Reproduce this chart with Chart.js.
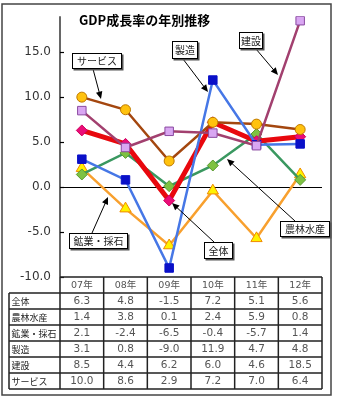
<!DOCTYPE html>
<html>
<head>
<meta charset="utf-8">
<script src="https://cdn.jsdelivr.net/npm/chart.js@4"></script>
<style>
  html, body { margin: 0; padding: 0; background: #fff; }
  #wrap { width: 337px; height: 400px; position: relative; }
</style>
</head>
<body>
<div id="wrap"><canvas id="gdpChart" width="337" height="400"></canvas></div>
<script>
// 年別GDP成長率（%）
const years = ['07年', '08年', '09年', '10年', '11年', '12年'];
const zentai = [6.3, 4.8, -1.5, 7.2, 5.1, 5.6];
const nourin = [1.4, 3.8, 0.1, 2.4, 5.9, 0.8];
const kougyou = [2.1, -2.4, -6.5, -0.4, -5.7, 1.4];
const seizou = [3.1, 0.8, -9.0, 11.9, 4.7, 4.8];
const kensetsu = [8.5, 4.4, 6.2, 6.0, 4.6, 18.5];
const service = [10.0, 8.6, 2.9, 7.2, 7.0, 6.4];
const yTicks = [-10, -5, 0, 5, 10, 15];

const FONT_NUM = '"DejaVu Sans", "Noto Sans CJK JP", sans-serif';
const FONT_JP = '"Noto Sans CJK JP", "DejaVu Sans", sans-serif';

// 表の行（ラベルとデータ）
const rows = [
    ['全体', zentai],
    ['農林水産', nourin],
    ['鉱業・採石', kougyou],
    ['製造', seizou],
    ['建設', kensetsu],
    ['サービス', service]
];

// 吹き出しラベル: 箱の位置と矢印
const callouts = [
    { text: 'サービス', x: 72, y: 53, w: 50, h: 16, from: [93, 69], to: [101, 99] },
    { text: '製造', x: 172, y: 41, w: 26, h: 18, from: [183, 59], to: [208, 92] },
    { text: '建設', x: 239, y: 32, w: 24, h: 17, from: [256, 49], to: [278, 75] },
    { text: '鉱業・採石', x: 69, y: 233, w: 59, h: 16, from: [92, 233], to: [108, 197] },
    { text: '全体', x: 204, y: 242, w: 29, h: 17, from: [214, 242], to: [172, 203] },
    { text: '農林水産', x: 280, y: 221, w: 50, h: 16, from: [295, 221], to: [227, 159] }
];

function arrow(ctx, x1, y1, x2, y2) {
    const ang = Math.atan2(y2 - y1, x2 - x1);
    const len = 8, spread = 0.42;
    ctx.beginPath();
    ctx.moveTo(x1, y1);
    ctx.lineTo(x2 - Math.cos(ang) * len * 0.8, y2 - Math.sin(ang) * len * 0.8);
    ctx.stroke();
    ctx.beginPath();
    ctx.moveTo(x2, y2);
    ctx.lineTo(x2 - len * Math.cos(ang - spread), y2 - len * Math.sin(ang - spread));
    ctx.lineTo(x2 - len * Math.cos(ang + spread), y2 - len * Math.sin(ang + spread));
    ctx.closePath();
    ctx.fill();
}

const decorPlugin = {
    id: 'decor',
    beforeDraw(chart) {
        const ctx = chart.ctx;
        ctx.save();
        ctx.fillStyle = '#fff';
        ctx.fillRect(0, 0, chart.width, chart.height);
        ctx.strokeStyle = '#444';
        ctx.lineWidth = 1.5;
        ctx.strokeRect(2, 4, 329, 391);
        ctx.restore();
    },
    beforeDatasetsDraw(chart) {
        const ctx = chart.ctx;
        const area = chart.chartArea;
        const y = chart.scales.y;
        ctx.save();
        ctx.strokeStyle = '#000';
        ctx.lineWidth = 1;
        // ゼロ線
        const y0 = Math.round(y.getPixelForValue(0)) + 0.5;
        ctx.beginPath();
        ctx.moveTo(area.left, y0);
        ctx.lineTo(area.right, y0);
        ctx.stroke();
        // 縦軸と目盛り
        ctx.lineWidth = 1.2;
        ctx.beginPath();
        ctx.moveTo(area.left, area.top);
        ctx.lineTo(area.left, area.bottom);
        ctx.stroke();
        yTicks.forEach(v => {
            const py = Math.round(y.getPixelForValue(v)) + 0.5;
            ctx.beginPath();
            ctx.moveTo(area.left, py);
            ctx.lineTo(area.left + 4, py);
            ctx.stroke();
        });
        ctx.restore();
    },
    afterDraw(chart) {
        const ctx = chart.ctx;
        const area = chart.chartArea;
        const x = chart.scales.x;
        ctx.save();

        // タイトル
        ctx.fillStyle = '#000';
        ctx.font = 'bold 13px ' + FONT_JP;
        ctx.textAlign = 'left';
        ctx.textBaseline = 'middle';
        ctx.fillText('GDP成長率の年別推移', 79, 20);

        // データ表
        const colW = (area.right - area.left) / years.length;
        const tableLeft = 9;
        const headTop = area.bottom;
        const headBottom = headTop + 16;
        const rowH = 16;
        const tableBottom = headBottom + rowH * rows.length;
        ctx.strokeStyle = '#222';
        ctx.lineWidth = 1.5;
        ctx.beginPath();
        ctx.moveTo(area.left, headTop);
        ctx.lineTo(area.right, headTop);
        for (let k = 0; k <= years.length; k++) {
            const px = area.left + k * colW;
            ctx.moveTo(px, headTop);
            ctx.lineTo(px, tableBottom);
        }
        for (let r = 0; r <= rows.length; r++) {
            const py = headBottom + r * rowH;
            ctx.moveTo(tableLeft, py);
            ctx.lineTo(area.right, py);
        }
        ctx.moveTo(tableLeft, headBottom);
        ctx.lineTo(tableLeft, tableBottom);
        ctx.stroke();

        ctx.textBaseline = 'middle';
        ctx.textAlign = 'center';
        ctx.fillStyle = '#555';
        ctx.font = '9.5px ' + FONT_NUM;
        years.forEach((yr, i) => {
            ctx.fillText(yr, x.getPixelForValue(i), headTop + 8.5);
        });
        rows.forEach((row, r) => {
            const cy = headBottom + r * rowH + 8.5;
            ctx.textAlign = 'left';
            ctx.fillStyle = '#222';
            ctx.font = '9px ' + FONT_JP;
            ctx.fillText(row[0], tableLeft + 2.5, cy);
            ctx.textAlign = 'center';
            ctx.fillStyle = '#555';
            ctx.font = '10.5px ' + FONT_NUM;
            row[1].forEach((v, i) => {
                ctx.fillText(v.toFixed(1), x.getPixelForValue(i), cy);
            });
        });

        // 吹き出し
        ctx.lineWidth = 1;
        ctx.strokeStyle = '#000';
        ctx.fillStyle = '#000';
        callouts.forEach(c => {
            arrow(ctx, c.from[0], c.from[1], c.to[0], c.to[1]);
        });
        callouts.forEach(c => {
            ctx.fillStyle = '#555';
            ctx.fillRect(c.x + 1.5, c.y + 1.5, c.w, c.h);
            ctx.fillStyle = '#fff';
            ctx.fillRect(c.x, c.y, c.w, c.h);
            ctx.strokeStyle = '#000';
            ctx.strokeRect(c.x + 0.5, c.y + 0.5, c.w - 1, c.h - 1);
            ctx.fillStyle = '#222';
            ctx.font = '10px ' + FONT_JP;
            ctx.textAlign = 'center';
            ctx.textBaseline = 'middle';
            ctx.fillText(c.text, c.x + c.w / 2, c.y + c.h / 2 + 0.5);
        });
        ctx.restore();
    }
};

new Chart(document.getElementById('gdpChart'), {
    type: 'line',
    data: {
        labels: years,
        datasets: [
            {
                label: '建設', data: kensetsu, order: 0,
                borderColor: '#a2406f', borderWidth: 2.5,
                pointStyle: 'rect', pointRadius: 6,
                pointBackgroundColor: '#d9a6f2', pointBorderColor: '#8a4aa0', pointBorderWidth: 1
            },
            {
                label: '製造', data: seizou, order: 1,
                borderColor: '#4677e6', borderWidth: 2.5,
                pointStyle: 'rect', pointRadius: 6,
                pointBackgroundColor: '#0a10c8', pointBorderColor: '#0a10c8', pointBorderWidth: 1
            },
            {
                label: 'サービス', data: service, order: 2,
                borderColor: '#a4470f', borderWidth: 2.5,
                pointStyle: 'circle', pointRadius: 5,
                pointBackgroundColor: '#ffc20e', pointBorderColor: '#c07a00', pointBorderWidth: 1
            },
            {
                label: '全体', data: zentai, order: 3,
                borderColor: '#e8080e', borderWidth: 5,
                pointStyle: 'rectRot', pointRadius: 5.5,
                pointBackgroundColor: '#ea0d78', pointBorderColor: '#d0005e', pointBorderWidth: 1
            },
            {
                label: '農林水産', data: nourin, order: 4,
                borderColor: '#3a9860', borderWidth: 2.5,
                pointStyle: 'rectRot', pointRadius: 5.5,
                pointBackgroundColor: '#7ec242', pointBorderColor: '#5a9a30', pointBorderWidth: 1
            },
            {
                label: '鉱業・採石', data: kougyou, order: 5,
                borderColor: '#f8a02e', borderWidth: 2.5,
                pointStyle: 'triangle', pointRadius: 6.5,
                pointBackgroundColor: '#fff200', pointBorderColor: '#f08a00', pointBorderWidth: 1
            }
        ]
    },
    options: {
        responsive: false,
        animation: false,
        layout: { padding: { left: 4, right: 15, top: 13, bottom: 123 } },
        plugins: {
            legend: { display: false },
            title: { display: false },
            tooltip: { enabled: false }
        },
        elements: { line: { tension: 0 } },
        scales: {
            x: {
                type: 'category',
                offset: true,
                display: false
            },
            y: {
                min: -10,
                max: 19,
                afterBuildTicks(scale) {
                    scale.ticks = yTicks.map(v => ({ value: v }));
                },
                afterFit(scale) { scale.width = 56; },
                grid: { display: false, drawTicks: false },
                border: { display: false },
                ticks: {
                    padding: 9,
                    color: '#333',
                    font: { family: FONT_NUM, size: 12 },
                    callback: v => v.toFixed(1)
                }
            }
        }
    },
    plugins: [decorPlugin]
});
</script>
</body>
</html>
